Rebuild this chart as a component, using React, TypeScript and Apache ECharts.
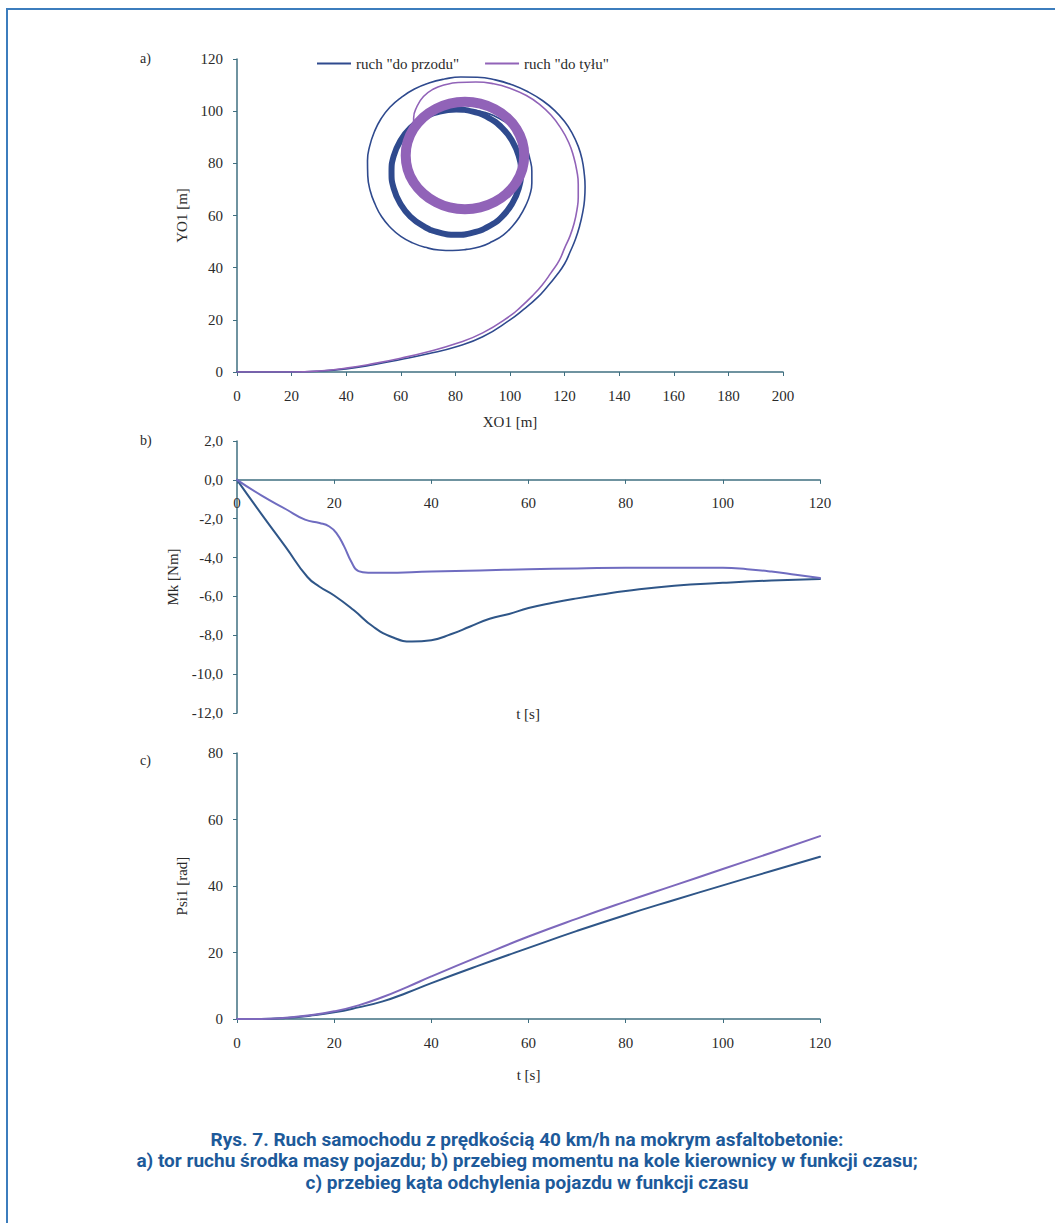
import { useEffect, useRef } from "react";
import * as echarts from "echarts";

const FWD = 'ruch "do przodu"';
const BWD = 'ruch "do tyłu"';

// a) trajectory of the centre of mass, [XO1, YO1] in metres
const pathFwd: number[][] = [
  [0, 0], [20, 0], [30, 0.3], [40, 1.2], [50, 2.8], [60, 4.8], [70, 7], [80, 9.6],
  [90, 13.5], [100, 20], [105, 24], [110, 28.5], [113.5, 32.5], [117, 37], [120, 41.5],
  [122, 46], [124, 51], [125.5, 56], [126.6, 61], [127.3, 66], [127.5, 71], [127.2, 76],
  [126.4, 81.5], [125, 86.5], [122.8, 91.5], [120, 96], [116.3, 100.3], [112, 104],
  [106.8, 107.3], [101, 110], [94.6, 112], [88, 113], [82, 113.1], [76, 112.3], [70.3, 110.8],
  [65, 108.5], [60.2, 105.3], [56, 101.5], [52.7, 97], [50.3, 92], [48.6, 86.6], [47.8, 81],
  [47.9, 75.2], [48.8, 69.5], [50.6, 64.3], [53, 59.5], [56.3, 55.3], [60, 52], [64.3, 49.5],
  [69, 47.8], [74, 46.8], [79, 46.6], [84, 47], [89, 48], [93.5, 50], [97.5, 52.5],
  [100.8, 55.8], [103.5, 59.5], [105.7, 63.7], [107.3, 68], [108, 72.5], [108, 77],
  [107.3, 81.6], [106, 86], [103.8, 90], [101, 93.5], [97.7, 96.2], [94, 98.3], [90.5, 99.6],
  [87, 100.3], [83.5, 100.6], [80.3, 100.6],
];
// final laps of the forward run, settled on a steady circle
const ringFwd: number[][] = [
  [80.3, 100.6], [74.2, 99.8], [68.5, 97.4], [63.5, 93.6], [59.8, 88.6], [57.4, 82.8],
  [56.6, 76.6], [57.4, 70.4], [59.8, 64.6], [63.5, 59.6], [68.5, 55.8], [74.2, 53.4],
  [80.3, 52.6], [86.4, 53.4], [92.2, 55.8], [97.1, 59.6], [100.8, 64.6], [103.2, 70.4],
  [104, 76.6], [103.2, 82.8], [100.8, 88.6], [97.1, 93.6], [92.2, 97.4], [86.4, 99.8],
  [80.3, 100.6], [74.2, 99.8],
];
const pathBwd: number[][] = [
  [0, 0], [20, 0], [30, 0.4], [40, 1.5], [50, 3.2], [60, 5.3], [70, 7.8], [80, 10.8],
  [90, 15], [100, 21.5], [104, 25], [108, 29], [111.8, 33.4], [115, 38], [118, 42.7],
  [120, 47.5], [122, 52.2], [123.5, 57], [124.5, 62], [125, 67], [125, 72], [124.5, 77],
  [123.3, 82.6], [121.5, 88], [118.6, 93.5], [115, 98.5], [110.8, 102.6], [106, 106],
  [100.2, 108.7], [94, 110.5], [87.5, 111.2], [81, 111], [76.2, 110.1], [72, 108.5],
  [68.3, 105.6], [65.8, 101.5], [64.7, 97.4], [64.7, 93.3],
];
// final laps of the reverse run
const ringBwd: number[][] = [
  [64.7, 93.3], [62.5, 88.3], [61.8, 83], [62.5, 77.7], [64.7, 72.7], [68.2, 68.4],
  [72.7, 65.2], [77.9, 63.1], [83.5, 62.4], [89.1, 63.1], [94.4, 65.2], [98.8, 68.4],
  [102.3, 72.7], [104.5, 77.7], [105.2, 83], [104.5, 88.3], [102.3, 93.3], [98.8, 97.6],
  [94.4, 100.8], [89.1, 102.9], [83.5, 103.6], [77.9, 102.9], [72.7, 100.8], [68.2, 97.6],
  [64.7, 93.3], [62.5, 88.3],
];

// b) steering wheel torque Mk [Nm] over time t [s]
const mkFwd: number[][] = [
  [0, 0], [5, -1.75], [10, -3.45], [14.5, -5.0], [17, -5.5], [20, -5.95], [24, -6.7],
  [28, -7.55], [32, -8.1], [36, -8.32], [40, -8.25], [44, -7.95], [48, -7.55], [52, -7.15],
  [56, -6.9], [60, -6.6], [65, -6.33], [70, -6.1], [75, -5.9], [80, -5.72], [90, -5.45],
  [100, -5.3], [110, -5.18], [120, -5.1],
];
const mkBwd: number[][] = [
  [0, 0], [5, -0.8], [10, -1.5], [14, -2.05], [17, -2.22], [19, -2.4], [20.5, -2.75],
  [22, -3.4], [23.5, -4.2], [25, -4.7], [27, -4.78], [30, -4.78], [40, -4.72], [50, -4.66],
  [60, -4.6], [70, -4.56], [80, -4.52], [90, -4.52], [100, -4.53], [105, -4.6], [110, -4.72],
  [115, -4.88], [120, -5.05],
];

// c) yaw angle Psi1 [rad] over time t [s]
const psiFwd: number[][] = [
  [0, 0], [5, 0], [10, 0.3], [15, 1], [20, 2], [25, 3.5], [30, 5.3], [35, 7.9], [40, 10.8],
  [50, 16.2], [60, 21.4], [70, 26.5], [80, 31.3], [90, 35.8], [100, 40.2], [110, 44.5], [120, 48.8],
];
const psiBwd: number[][] = [
  [0, 0], [5, 0], [10, 0.35], [15, 1.1], [20, 2.3], [25, 4.1], [30, 6.6], [35, 9.6], [40, 12.8],
  [50, 18.9], [60, 24.8], [70, 30.2], [80, 35.3], [90, 40.2], [100, 45.1], [110, 50.0], [120, 55],
];

const captionLines = [
  "Rys. 7. Ruch samochodu z prędkością 40 km/h na mokrym asfaltobetonie:",
  "a) tor ruchu środka masy pojazdu; b) przebieg momentu na kole kierownicy w funkcji czasu;",
  "c) przebieg kąta odchylenia pojazdu w funkcji czasu",
];

const COL_FWD = "#2f4a8e";
const COL_BWD = "#9163b8";
const AXIS = "#3f6f80";
const SERIF = "'Liberation Serif', 'DejaVu Serif', serif";

const axisCommon = {
  axisLine: { show: true, onZero: false, lineStyle: { color: AXIS, width: 1.5 } },
  axisTick: { show: true, length: 4, lineStyle: { color: AXIS } },
  axisLabel: { color: "#2a2a2a", fontFamily: SERIF, fontSize: 15, margin: 16 },
  splitLine: { show: false },
  nameTextStyle: { color: "#2a2a2a", fontFamily: SERIF, fontSize: 15 },
};

const line = (name: string, data: number[][], color: string, width: number, xi: number, z = 2) => ({
  type: "line",
  name,
  data,
  xAxisIndex: xi,
  yAxisIndex: xi,
  smooth: 0.5,
  symbol: "none",
  lineStyle: { color, width, join: "round", cap: "round" },
  itemStyle: { color },
  z,
});

export default function App() {
  const ref = useRef<HTMLDivElement>(null);
  useEffect(() => {
    if (!ref.current) return;
    const chart = echarts.init(ref.current, null, { renderer: "svg" });
    const comma = (v: number) => v.toFixed(1).replace(".", ",");
    // height of grid b and its y range, used to put the time axis on Mk = 0
    const hB = 272;
    const zeroOffsetB = -(hB * 12) / 14;
    chart.setOption({
      animation: false,
      backgroundColor: "#ffffff",
      legend: {
        left: 312,
        top: 51,
        icon: "rect",
        itemWidth: 34,
        itemHeight: 2,
        itemGap: 26,
        data: [FWD, BWD],
        textStyle: { color: "#2a2a2a", fontFamily: SERIF, fontSize: 15 },
      },
      grid: [
        { left: 237, top: 59, width: 546, height: 313 },
        { left: 237, top: 441, width: 583, height: hB },
        { left: 237, top: 753, width: 583, height: 266 },
      ],
      xAxis: [
        { ...axisCommon, gridIndex: 0, type: "value", min: 0, max: 200, interval: 20,
          name: "XO1 [m]", nameLocation: "middle", nameGap: 42 },
        { ...axisCommon, gridIndex: 1, type: "value", min: 0, max: 120, interval: 20,
          position: "bottom", offset: zeroOffsetB },
        { ...axisCommon, gridIndex: 2, type: "value", min: 0, max: 120, interval: 20,
          name: "t [s]", nameLocation: "middle", nameGap: 48 },
      ],
      yAxis: [
        { ...axisCommon, gridIndex: 0, type: "value", min: 0, max: 120, interval: 20,
          axisLabel: { ...axisCommon.axisLabel, margin: 14 },
          name: "YO1 [m]", nameLocation: "middle", nameGap: 48 },
        { ...axisCommon, gridIndex: 1, type: "value", min: -12, max: 2, interval: 2,
          axisLabel: { ...axisCommon.axisLabel, margin: 14, formatter: comma },
          name: "Mk [Nm]", nameLocation: "middle", nameGap: 52 },
        { ...axisCommon, gridIndex: 2, type: "value", min: 0, max: 80, interval: 20,
          axisLabel: { ...axisCommon.axisLabel, margin: 14 },
          name: "Psi1 [rad]", nameLocation: "middle", nameGap: 48 },
      ],
      series: [
        line(FWD, pathFwd, COL_FWD, 1.6, 0),
        line(FWD, ringFwd, COL_FWD, 6, 0, 3),
        line(BWD, pathBwd, COL_BWD, 1.6, 0, 4),
        line(BWD, ringBwd, COL_BWD, 10, 0, 5),
        line(FWD, mkFwd, "#2f5688", 2, 1),
        line(BWD, mkBwd, "#6f6cc0", 2, 1),
        line(FWD, psiFwd, "#2f5688", 2, 2),
        line(BWD, psiBwd, "#7d68bc", 2, 2),
      ],
      graphic: [
        { type: "polyline", shape: { points: [[7, 1223], [7, 9], [1055, 9]] },
          style: { stroke: "#3c7dbd", lineWidth: 2, fill: "none" } },
        { type: "text", x: 140, y: 58, style: { text: "a)", font: `14px ${SERIF}`, fill: "#2a2a2a", textVerticalAlign: "middle" } },
        { type: "text", x: 140, y: 440, style: { text: "b)", font: `14px ${SERIF}`, fill: "#2a2a2a", textVerticalAlign: "middle" } },
        { type: "text", x: 140, y: 760, style: { text: "c)", font: `14px ${SERIF}`, fill: "#2a2a2a", textVerticalAlign: "middle" } },
        { type: "text", x: 528, y: 714, style: { text: "t [s]", font: `15px ${SERIF}`, fill: "#2a2a2a", textAlign: "center", textVerticalAlign: "middle" } },
        ...captionLines.map((t, i) => ({
          type: "text",
          x: 527,
          y: 1139 + i * 21.5,
          style: {
            text: t,
            font: "bold 19px Roboto, 'Noto Sans', sans-serif",
            fill: "#1d5a9a",
            textAlign: "center",
            textVerticalAlign: "middle",
          },
        })),
      ],
    });
    return () => chart.dispose();
  }, []);
  return (
    <div
      ref={ref}
      style={{ position: "absolute", left: 0, top: 0, width: 1055, height: 1223 }}
    />
  );
}
